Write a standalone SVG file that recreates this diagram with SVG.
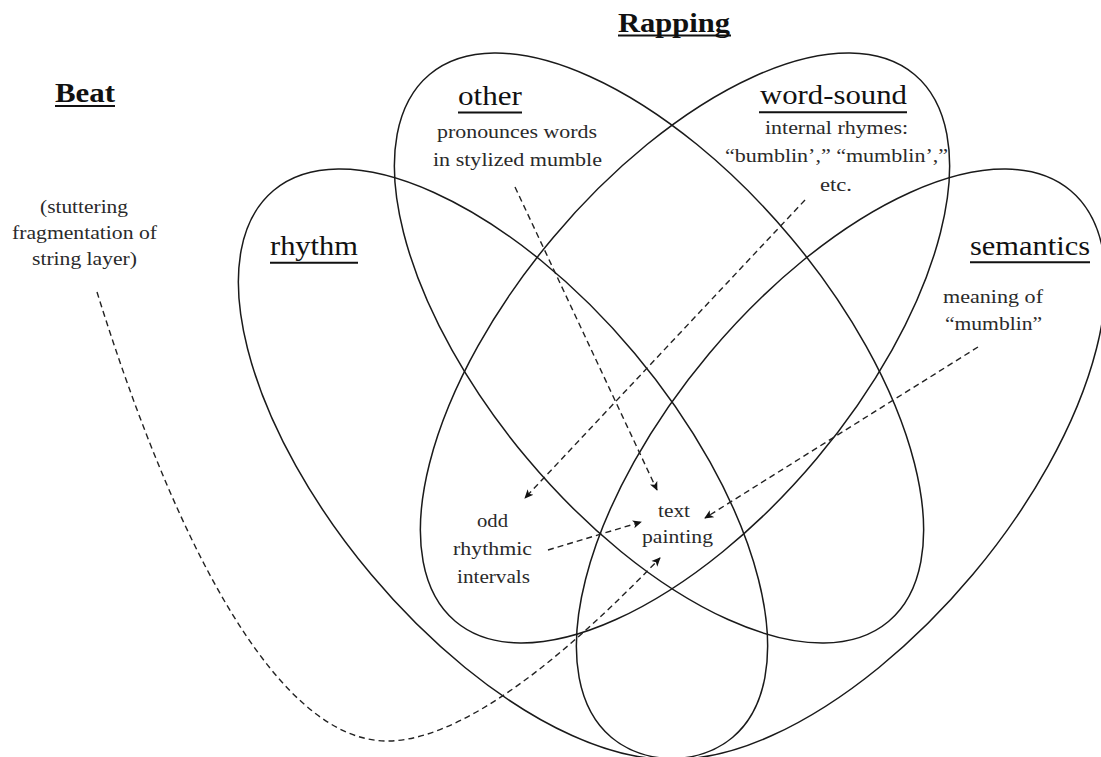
<svg xmlns="http://www.w3.org/2000/svg" width="1101" height="757" viewBox="0 0 1101 757">
<style>
.set{fill:none;stroke:#1a1a1a;stroke-width:1.5}
.h{font-family:"Liberation Serif","Times New Roman",serif;font-size:27px;fill:#111;text-anchor:middle}
.hb{font-weight:bold}
.t{font-family:"Liberation Serif","Times New Roman",serif;font-size:19px;fill:#2a2a2a;text-anchor:middle}
.ul{stroke:#111;stroke-width:2}
.c{fill:none;stroke:#222;stroke-width:1.4;stroke-dasharray:6 4}
</style>
<defs>
<marker id="ah" viewBox="0 0 10 10" refX="9" refY="5" markerWidth="9" markerHeight="9" markerUnits="userSpaceOnUse" orient="auto">
<path d="M0,0.5 L10,5 L0,9.5 L2.5,5 z" fill="#111"/>
</marker>
</defs>
<rect width="1101" height="757" fill="#fff"/>

<g id="rapping">
<text class="h hb" x="674" y="32" textLength="112" lengthAdjust="spacingAndGlyphs">Rapping</text>
<line class="ul" x1="618" y1="35.5" x2="731" y2="35.5"/>
</g>

<g id="beat">
<text class="h hb" x="85" y="101.5" textLength="60" lengthAdjust="spacingAndGlyphs">Beat</text>
<line class="ul" x1="55" y1="106" x2="115" y2="106"/>
<text class="t" x="84" y="212.5" textLength="88" lengthAdjust="spacingAndGlyphs">(stuttering</text>
<text class="t" x="84.5" y="238.5" textLength="145" lengthAdjust="spacingAndGlyphs">fragmentation of</text>
<text class="t" x="84.5" y="265" textLength="105" lengthAdjust="spacingAndGlyphs">string layer)</text>
</g>

<g id="rhythm">
<ellipse class="set" cx="503" cy="464" rx="357" ry="172" transform="rotate(50 503 464)"/>
<text class="h" x="314" y="255" textLength="88" lengthAdjust="spacingAndGlyphs">rhythm</text>
<line class="ul" x1="270" y1="262.8" x2="358" y2="262.8"/>
<text class="t" x="492.5" y="526.7" textLength="31" lengthAdjust="spacingAndGlyphs">odd</text>
<text class="t" x="492.5" y="555" textLength="79" lengthAdjust="spacingAndGlyphs">rhythmic</text>
<text class="t" x="493.5" y="583" textLength="73" lengthAdjust="spacingAndGlyphs">intervals</text>
</g>

<g id="other">
<ellipse class="set" cx="659" cy="348" rx="357" ry="172" transform="rotate(50 659 348)"/>
<text class="h" x="490" y="105" textLength="64" lengthAdjust="spacingAndGlyphs">other</text>
<line class="ul" x1="458" y1="112.5" x2="522" y2="112.5"/>
<text class="t" x="517" y="137.7" textLength="160" lengthAdjust="spacingAndGlyphs">pronounces words</text>
<text class="t" x="517.5" y="166" textLength="169" lengthAdjust="spacingAndGlyphs">in stylized mumble</text>
</g>

<g id="word-sound">
<ellipse class="set" cx="685" cy="348" rx="357" ry="172" transform="rotate(-50 685 348)"/>
<text class="h" x="833.5" y="104" textLength="147" lengthAdjust="spacingAndGlyphs">word-sound</text>
<line class="ul" x1="759" y1="112.2" x2="907" y2="112.2"/>
<text class="t" x="836.5" y="134" textLength="143" lengthAdjust="spacingAndGlyphs">internal rhymes:</text>
<text class="t" x="836.5" y="161.7" textLength="223" lengthAdjust="spacingAndGlyphs">“bumblin’,” “mumblin’,”</text>
<text class="t" x="836" y="191" textLength="32" lengthAdjust="spacingAndGlyphs">etc.</text>
</g>

<g id="semantics">
<ellipse class="set" cx="841" cy="464" rx="357" ry="172" transform="rotate(-50 841 464)"/>
<text class="h" x="1030" y="255" textLength="120" lengthAdjust="spacingAndGlyphs">semantics</text>
<line class="ul" x1="970" y1="262.3" x2="1090" y2="262.3"/>
<text class="t" x="993" y="302.5" textLength="100" lengthAdjust="spacingAndGlyphs">meaning of</text>
<text class="t" x="993.5" y="330" textLength="97" lengthAdjust="spacingAndGlyphs">“mumblin”</text>
</g>

<g id="text-painting">
<text class="t" x="674" y="516.7" textLength="32" lengthAdjust="spacingAndGlyphs">text</text>
<text class="t" x="677.5" y="543" textLength="71" lengthAdjust="spacingAndGlyphs">painting</text>
</g>

<g id="connectors">
<path class="c" d="M515 187 L657 490" marker-end="url(#ah)"/>
<path class="c" d="M805 200 L525 498" marker-end="url(#ah)"/>
<path class="c" d="M978 347 L705 518" marker-end="url(#ah)"/>
<path class="c" d="M548 550 L641 522" marker-end="url(#ah)"/>
<path class="c" d="M97 292 C140 430 250 745 390 741 C480 738 600 620 660 558" marker-end="url(#ah)"/>
</g>
</svg>
